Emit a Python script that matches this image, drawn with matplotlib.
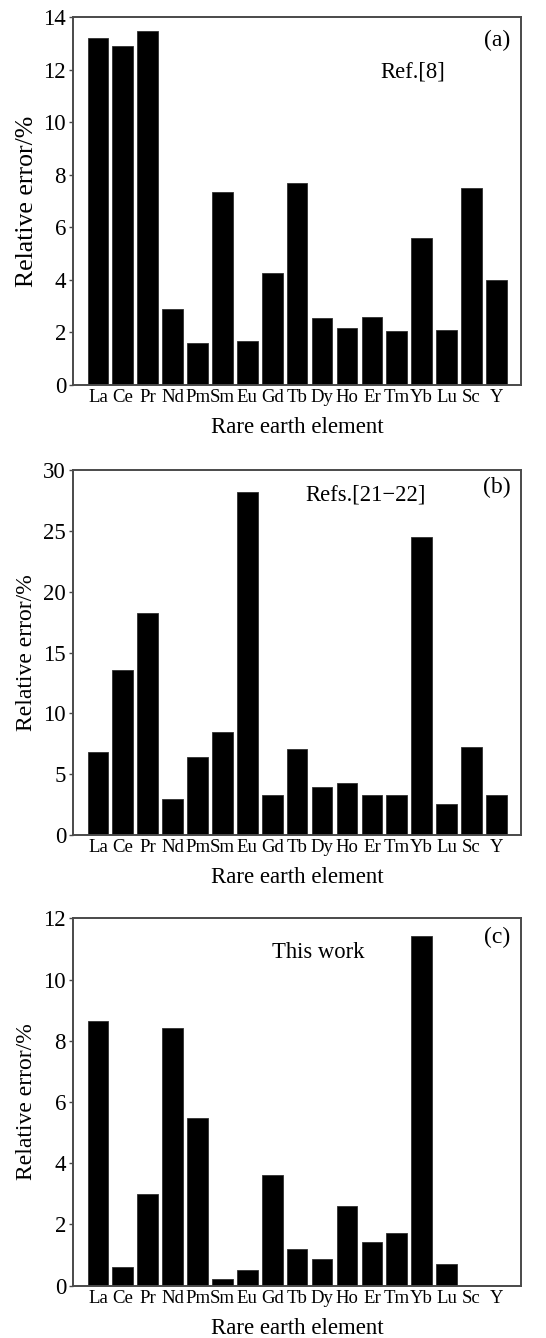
import matplotlib
matplotlib.use("Agg")
import matplotlib.pyplot as plt

plt.rcParams["font.family"] = ["Liberation Serif", "DejaVu Serif"]

elements = ["La", "Ce", "Pr", "Nd", "Pm", "Sm", "Eu", "Gd", "Tb",
            "Dy", "Ho", "Er", "Tm", "Yb", "Lu", "Sc", "Y"]

err_ref8 = [13.19, 12.89, 13.47, 2.89, 1.59, 7.35, 1.67, 4.25, 7.70,
            2.54, 2.18, 2.57, 2.05, 5.60, 2.09, 7.50, 3.99]
err_ref21_22 = [6.80, 13.56, 18.27, 2.96, 6.44, 8.49, 28.18, 3.26, 7.04,
                3.97, 4.25, 3.26, 3.26, 24.50, 2.52, 7.20, 3.26]
err_this_work = [8.63, 0.62, 2.99, 8.43, 5.47, 0.23, 0.51, 3.62, 1.20,
                 0.87, 2.59, 1.42, 1.71, 11.43, 0.71, 0.0, 0.0]

panels = [
    dict(values=err_ref8, ymax=14, yticks=range(0, 15, 2), tag="(a)",
         note="Ref.[8]", note_xy=(0.759, 0.85), tag_y=0.937, ylab_size=18.5,
         rect=[0.1337, 0.7123, 0.821, 0.2750]),
    dict(values=err_ref21_22, ymax=30, yticks=range(0, 31, 5), tag="(b)",
         note="Refs.[21\u221222]", note_xy=(0.652, 0.932), tag_y=0.953,
         ylab_size=17, rect=[0.1337, 0.3759, 0.821, 0.2728]),
    dict(values=err_this_work, ymax=12, yticks=range(0, 13, 2), tag="(c)",
         note="This work", note_xy=(0.547, 0.908), tag_y=0.949, ylab_size=17,
         rect=[0.1337, 0.0391, 0.821, 0.2746]),
]

fig = plt.figure(figsize=(5.46, 13.38), dpi=100)
spine_color = "#4a4a4a"
x = list(range(len(elements)))

for p in panels:
    ax = fig.add_axes(p["rect"])
    ax.bar(x, p["values"], width=0.83, color="black", edgecolor="#303030",
           linewidth=0.6)
    ax.set_xlim(-1, len(elements))
    ax.set_ylim(0, p["ymax"])
    ax.set_yticks(list(p["yticks"]))
    ax.set_xticks(x)
    ax.set_xticklabels(elements, fontsize=13.5)
    ax.tick_params(axis="x", length=0, pad=3)
    ax.tick_params(axis="y", direction="out", length=3, width=1,
                   colors=spine_color, labelcolor="black", labelsize=16.5, pad=2)
    for s in ax.spines.values():
        s.set_color(spine_color)
        s.set_linewidth(1.4)
    ax.set_ylabel("Relative error/%", fontsize=p["ylab_size"], va="center")
    ax.yaxis.set_label_coords(-0.103, 0.5)
    ax.set_xlabel("Rare earth element", fontsize=16.5, va="center")
    ax.xaxis.set_label_coords(0.5, -0.117)
    ax.text(0.946, p["tag_y"], p["tag"], transform=ax.transAxes,
            ha="center", va="center", fontsize=17)
    ax.text(p["note_xy"][0], p["note_xy"][1], p["note"], transform=ax.transAxes,
            ha="center", va="center", fontsize=16.3)

fig.savefig("out.png", dpi=100)
